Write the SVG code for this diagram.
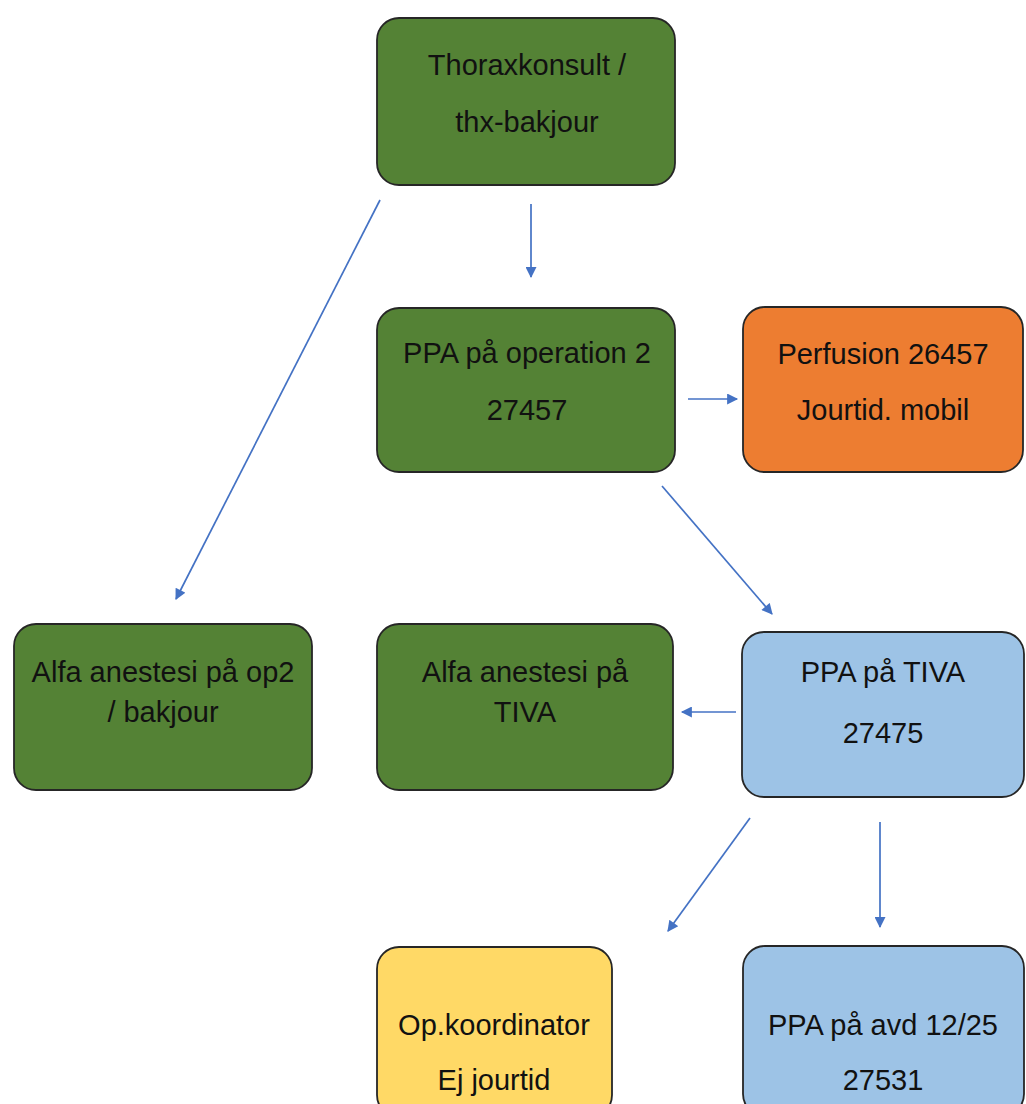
<svg xmlns="http://www.w3.org/2000/svg" width="1026" height="1104" viewBox="0 0 1026 1104">
<defs>
<style>
.box{stroke:#262626;stroke-width:1.8}
.g{fill:#548235}
.o{fill:#ED7D31}
.b{fill:#9DC3E6}
.y{fill:#FFD966}
text{font-family:"Liberation Sans",Arial,sans-serif;font-size:29px;fill:#111111;text-anchor:middle}
.c{stroke:#4472C4;stroke-width:1.7;fill:none;marker-end:url(#ah)}
</style>
<marker id="ah" viewBox="0 0 10 10" refX="9" refY="5" markerWidth="13" markerHeight="11" markerUnits="userSpaceOnUse" orient="auto"><path d="M0,0 L10,5 L0,10 z" fill="#4472C4"/></marker>
</defs>
<rect width="1026" height="1104" fill="#ffffff"/>
<g id="n-thorax"><rect class="box g" x="377" y="18" width="298" height="167" rx="22"/><text x="527" y="75">Thoraxkonsult /</text><text x="527" y="132">thx-bakjour</text></g>
<g id="n-ppa-op2"><rect class="box g" x="377" y="308" width="298" height="164" rx="22"/><text x="527" y="363">PPA på operation 2</text><text x="527" y="420">27457</text></g>
<g id="n-perfusion"><rect class="box o" x="743" y="307" width="280" height="165" rx="22"/><text x="883" y="364">Perfusion 26457</text><text x="883" y="420">Jourtid. mobil</text></g>
<g id="n-alfa-op2"><rect class="box g" x="14" y="624" width="298" height="166" rx="22"/><text x="163" y="682">Alfa anestesi på op2</text><text x="163" y="722">/ bakjour</text></g>
<g id="n-alfa-tiva"><rect class="box g" x="377" y="624" width="296" height="166" rx="22"/><text x="525" y="682">Alfa anestesi på</text><text x="525" y="722">TIVA</text></g>
<g id="n-ppa-tiva"><rect class="box b" x="742" y="632" width="282" height="165" rx="22"/><text x="883" y="682">PPA på TIVA</text><text x="883" y="743">27475</text></g>
<g id="n-opkoord"><rect class="box y" x="377" y="947" width="235" height="170" rx="22"/><text x="494" y="1035">Op.koordinator</text><text x="494" y="1090">Ej jourtid</text></g>
<g id="n-ppa-avd"><rect class="box b" x="743" y="946" width="281" height="170" rx="22"/><text x="883" y="1035">PPA på avd 12/25</text><text x="883" y="1090">27531</text></g>
<g id="connectors">
<line class="c" x1="531" y1="204" x2="531" y2="277"/>
<line class="c" x1="380" y1="200" x2="176" y2="599"/>
<line class="c" x1="688" y1="399" x2="737" y2="399"/>
<line class="c" x1="662" y1="486" x2="772" y2="614"/>
<line class="c" x1="736" y1="712" x2="682" y2="712"/>
<line class="c" x1="750" y1="818" x2="668" y2="931"/>
<line class="c" x1="880" y1="822" x2="880" y2="927"/>
</g>
</svg>
